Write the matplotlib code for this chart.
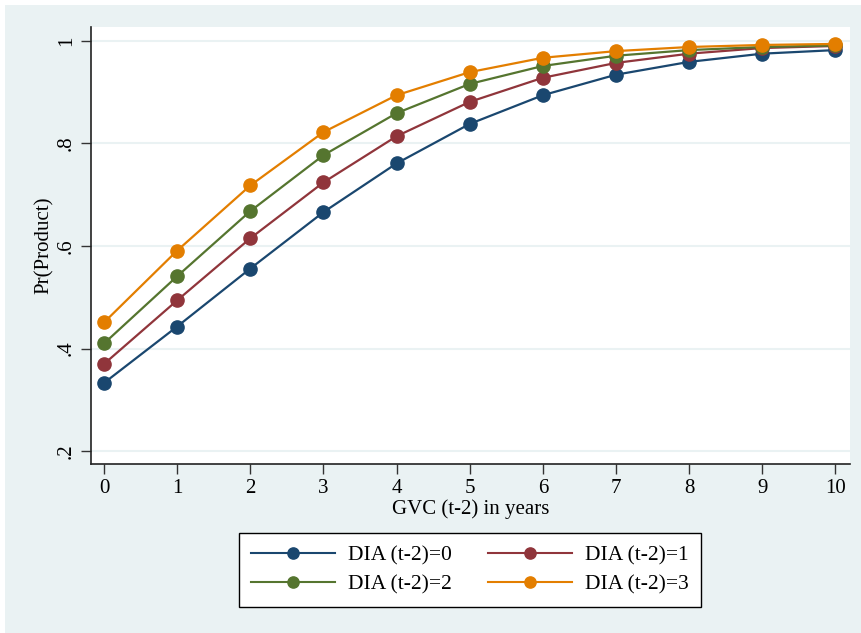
import matplotlib.pyplot as plt
from matplotlib.patches import Rectangle

# datos
gvc = [0, 1, 2, 3, 4, 5, 6, 7, 8, 9, 10]
dia0 = [0.333, 0.443, 0.556, 0.666, 0.761, 0.838, 0.894, 0.934, 0.959, 0.975, 0.982]
dia1 = [0.370, 0.494, 0.615, 0.724, 0.814, 0.881, 0.928, 0.957, 0.975, 0.986, 0.990]
dia2 = [0.410, 0.541, 0.668, 0.777, 0.859, 0.916, 0.951, 0.971, 0.982, 0.988, 0.991]
dia3 = [0.451, 0.591, 0.718, 0.822, 0.894, 0.939, 0.967, 0.980, 0.988, 0.992, 0.994]
labels = ["DIA (t-2)=0", "DIA (t-2)=1", "DIA (t-2)=2", "DIA (t-2)=3"]
colors = ["#1a476f", "#90353b", "#55752f", "#e37e00"]

yticks = [0.2, 0.4, 0.6, 0.8, 1.0]
yticklabels = [".2", ".4", ".6", ".8", "1"]

plt.rcParams["font.family"] = ["Liberation Serif", "DejaVu Serif"]
bg = "#eaf2f3"

W, H = 861, 633
fig = plt.figure(figsize=(W / 100, H / 100), dpi=100, facecolor="white")
fig.patches.append(Rectangle((5 / W, 0), 1 - 5 / W, 1 - 5 / H,
                             transform=fig.transFigure, facecolor=bg,
                             edgecolor="none", zorder=-1))

ax = fig.add_axes([91 / W, 1 - 464 / H, (850 - 91) / W, (464 - 27) / H])
ax.set_facecolor("white")

handles = []
for ys, lab, c in zip([dia0, dia1, dia2, dia3], labels, colors):
    h, = ax.plot(gvc, ys, color=c, lw=1.6, marker="o", ms=9.5, label=lab, zorder=3)
    handles.append(h)

ax.set_xlim(-0.178, 10.2)
ax.set_ylim(0.175, 1.027)
ax.set_xticks(gvc)
ax.set_yticks(yticks)
ax.set_yticklabels(yticklabels, rotation=90, va="center")
ax.grid(axis="y", color=bg, lw=1.5)
ax.set_axisbelow(True)

for s in ["top", "right"]:
    ax.spines[s].set_visible(False)
for s in ["left", "bottom"]:
    ax.spines[s].set_color("#222222")
    ax.spines[s].set_linewidth(1.2)
ax.tick_params(labelsize=15, length=7, width=1, color="#333333", pad=4)

ax.set_xlabel("GVC (t-2) in years", fontsize=15, labelpad=1)
ax.set_ylabel("Pr(Product)", fontsize=15, labelpad=2)

# orden por filas: 0 1 / 2 3
order = [0, 2, 1, 3]
leg = fig.legend([handles[i] for i in order], [labels[i] for i in order],
                 loc="center", bbox_to_anchor=(470 / W, 1 - 570 / H), ncol=2,
                 fontsize=15.5, frameon=True, fancybox=False, framealpha=1,
                 handlelength=3.9, columnspacing=1.7, handletextpad=0.6,
                 labelspacing=0.45, borderpad=0.55, markerscale=0.85)
leg.get_frame().set_facecolor("white")
leg.get_frame().set_edgecolor("black")
leg.get_frame().set_linewidth(1.0)
for line in leg.get_lines():
    line.set_linewidth(1.5)

fig.savefig("out.png", dpi=100, facecolor=fig.get_facecolor())
